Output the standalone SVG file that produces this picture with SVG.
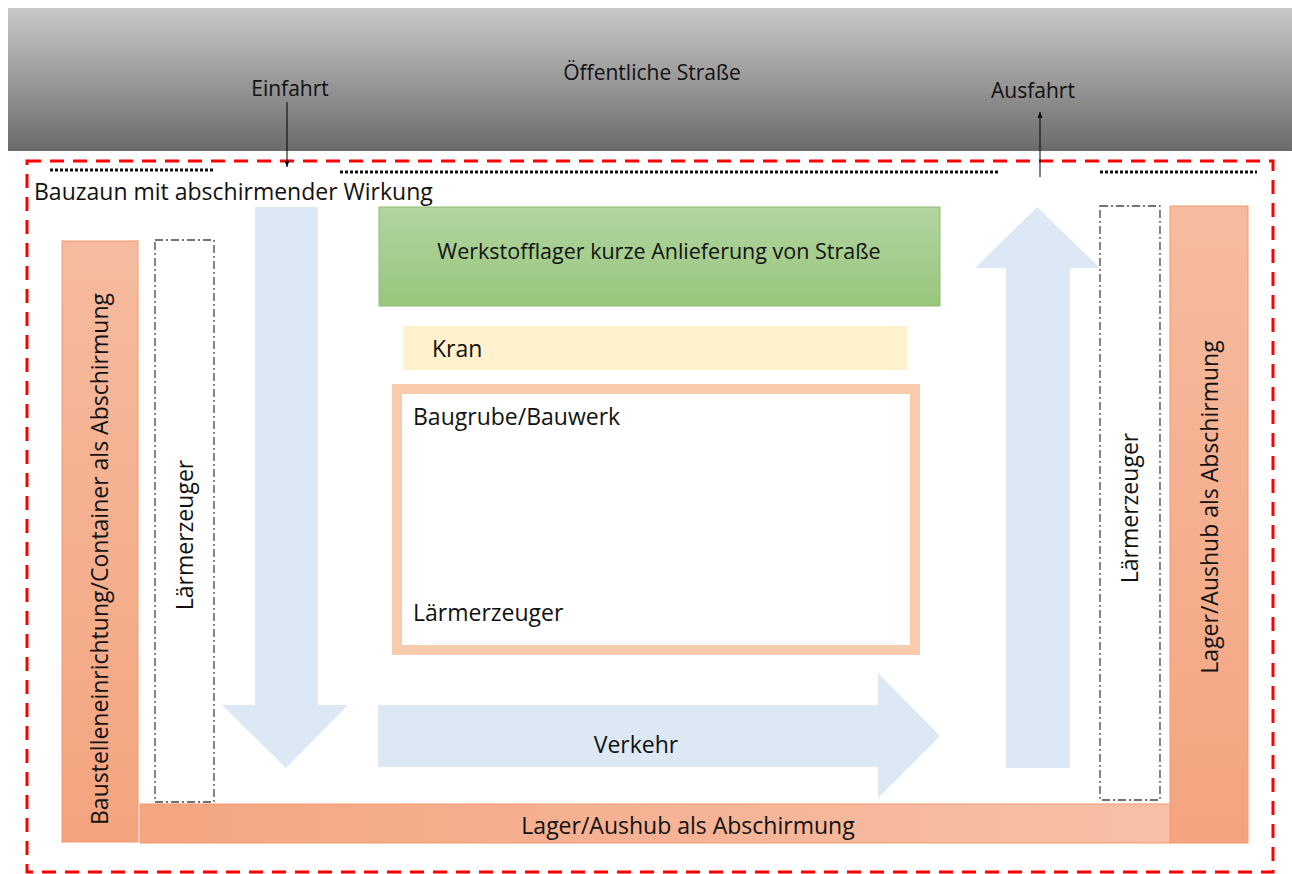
<svg xmlns="http://www.w3.org/2000/svg" width="1292" height="874" viewBox="0 0 1292 874">
<defs>
<linearGradient id="road" x1="0" y1="0" x2="0" y2="1"><stop offset="0" stop-color="#c8c8c8"/><stop offset="1" stop-color="#6b6b6b"/></linearGradient>
<linearGradient id="orangeH" x1="0" y1="0" x2="1" y2="0"><stop offset="0" stop-color="#f4a581"/><stop offset="1" stop-color="#f7c0a7"/></linearGradient>
<linearGradient id="orangeV" x1="0" y1="0" x2="0" y2="1"><stop offset="0" stop-color="#f6bb9f"/><stop offset="1" stop-color="#f4a47f"/></linearGradient>
<linearGradient id="green" x1="0" y1="0" x2="0" y2="1"><stop offset="0" stop-color="#b2d4a0"/><stop offset="1" stop-color="#98c67c"/></linearGradient>
<marker id="ah" viewBox="0 0 10 10" refX="10" refY="5" markerWidth="6" markerHeight="6" orient="auto"><path d="M0,1 L10,5 L0,9 z" fill="#000"/></marker>
<style>
text{font-family:"Open Sans","Noto Sans","Liberation Sans",sans-serif;fill:#111}
.lbl{font-size:23px}
.road{font-size:21px}
.blue{fill:#dde8f5}
.noise{fill:#fff;stroke:#444;stroke-width:1.3;stroke-dasharray:8 3 2 3}
.fence{stroke:#111;stroke-width:3;stroke-dasharray:3 2}
.orange{stroke:#f19a6a;stroke-width:1}
</style>
</defs>
<rect width="1292" height="874" fill="#fff"/>
<g id="road">
<rect x="8" y="8" width="1284" height="143" fill="url(#road)"/>
<text class="road" x="652" y="80" text-anchor="middle">Öffentliche Straße</text>
</g>
<g id="einfahrt"><text class="road" x="290" y="96" text-anchor="middle">Einfahrt</text></g>
<g id="ausfahrt"><text class="road" x="1033" y="98" text-anchor="middle">Ausfahrt</text></g>
<g id="site-border">
<rect x="27" y="161" width="1246" height="711" fill="none" stroke="#ff0000" stroke-width="3" stroke-dasharray="14 9"/>
</g>
<g id="bauzaun">
<line class="fence" x1="50" y1="170" x2="215" y2="170"/>
<line class="fence" x1="340" y1="172" x2="1000" y2="172"/>
<line class="fence" x1="1100" y1="172" x2="1257" y2="172"/>
<text class="lbl" x="34" y="200">Bauzaun mit abschirmender Wirkung</text>
</g>
<g id="arrow-down">
<path class="blue" d="M255,207 H318 V705 H348 L286,768 L222,705 H255 Z"/>
</g>
<g id="arrow-right">
<path class="blue" d="M378,705 H878 V673 L940,736 L878,798 V767 H378 Z"/>
<text class="lbl" x="636" y="753" text-anchor="middle">Verkehr</text>
</g>
<g id="arrow-up">
<path class="blue" d="M1006,768 V268 H975 L1037,207 L1100,268 H1070 V768 Z"/>
</g>
<g id="werkstofflager">
<rect x="379" y="207" width="561" height="99" fill="url(#green)" stroke="#8fbf72" stroke-width="1"/>
<text x="659" y="259" text-anchor="middle" style="font-size:21.5px">Werkstofflager kurze Anlieferung von Straße</text>
</g>
<g id="kran">
<rect x="403" y="326" width="504" height="44" fill="#fff2cc"/>
<text class="lbl" x="432" y="357">Kran</text>
</g>
<g id="baugrube">
<rect x="397" y="389" width="518" height="261" fill="#fff" stroke="#f8cbad" stroke-width="10"/>
<text class="lbl" x="413" y="425">Baugrube/Bauwerk</text>
<text class="lbl" x="413" y="621">Lärmerzeuger</text>
</g>
<g id="container">
<rect class="orange" x="62" y="241" width="76" height="601" fill="url(#orangeV)"/>
<text class="lbl" transform="translate(108,559) rotate(-90)" text-anchor="middle">Baustelleneinrichtung/Container als Abschirmung</text>
</g>
<g id="noise-left">
<rect class="noise" x="155" y="240" width="59" height="562"/>
<text class="lbl" transform="translate(193,535) rotate(-90)" text-anchor="middle">Lärmerzeuger</text>
</g>
<g id="noise-right">
<rect class="noise" x="1100" y="206" width="60" height="594"/>
<text class="lbl" transform="translate(1138,508) rotate(-90)" text-anchor="middle">Lärmerzeuger</text>
</g>
<g id="lager-right">
<rect class="orange" x="1170" y="206" width="78" height="637" fill="url(#orangeV)"/>
<text class="lbl" transform="translate(1218,507) rotate(-90)" text-anchor="middle">Lager/Aushub als Abschirmung</text>
</g>
<g id="lager-bottom">
<rect class="orange" x="140" y="804" width="1030" height="39" fill="url(#orangeH)"/>
<text class="lbl" x="688" y="834" text-anchor="middle">Lager/Aushub als Abschirmung</text>
</g>
<g id="connectors">
<line x1="287" y1="102" x2="287" y2="167" stroke="#000" stroke-width="1" marker-end="url(#ah)"/>
<line x1="1040" y1="177" x2="1040" y2="112" stroke="#000" stroke-width="1" marker-end="url(#ah)"/>
</g>
</svg>
